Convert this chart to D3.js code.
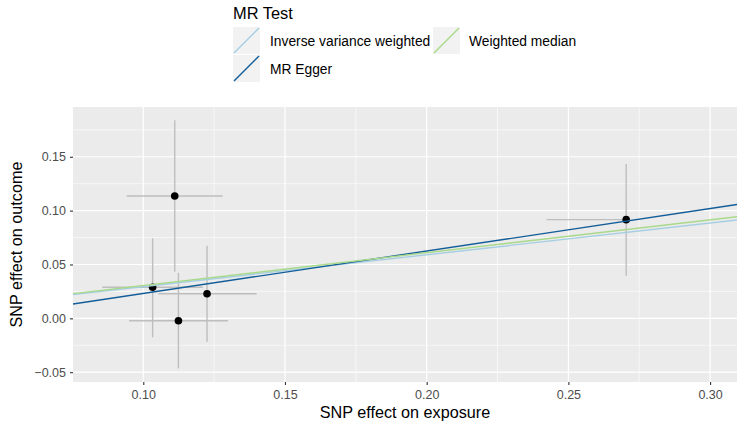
<!DOCTYPE html>
<html><head><meta charset="utf-8">
<script src="https://cdn.jsdelivr.net/npm/d3@7"></script>
<style>body{margin:0;background:#fff;}svg{display:block;font-family:"Liberation Sans",Arial,sans-serif;}</style>
</head><body>
<svg id="c" width="744" height="431"></svg>
<script>
// Data
const snpExposure = [0.1111, 0.1033, 0.1225, 0.1124, 0.2704];
const snpOutcome  = [0.1136, 0.0288, 0.0228, -0.0022, 0.0916];
const exposureLo  = [0.0941, 0.0855, 0.1053, 0.0950, 0.2423];
const exposureHi  = [0.1280, 0.1210, 0.1400, 0.1299, 0.2704];
const outcomeLo   = [0.0433, -0.0176, -0.0217, -0.0464, 0.0396];
const outcomeHi   = [0.1840, 0.0743, 0.0674, 0.0423, 0.1433];
const methods     = ["Inverse variance weighted", "MR Egger", "Weighted median"];
const slopes      = [0.295, 0.394, 0.3047];
const intercepts  = [0, -0.0163, 0];
const methodColors = ["#a6cee3", "#135d98", "#a9d98a"];
const xTicks = [0.10, 0.15, 0.20, 0.25, 0.30];
const yTicks = [-0.05, 0.00, 0.05, 0.10, 0.15];
const xMinor = [0.075, 0.125, 0.175, 0.225, 0.275];
const yMinor = [-0.025, 0.025, 0.075, 0.125, 0.175];

const svg = d3.select("#c");
const L = 73, R = 737, T = 107, B = 382;
const x = d3.scaleLinear().domain([0.0752, 0.3095]).range([L, R]);
const y = d3.scaleLinear().domain([-0.0591, 0.1962]).range([B, T]);

svg.append("defs").append("clipPath").attr("id","clip")
  .append("rect").attr("x",L).attr("y",T).attr("width",R-L).attr("height",B-T);

svg.append("rect").attr("x",L).attr("y",T).attr("width",R-L).attr("height",B-T).attr("fill","#ebebeb");

const grid = svg.append("g").attr("clip-path","url(#clip)");
grid.selectAll(".xm").data(xMinor).join("line")
  .attr("x1",d=>x(d)).attr("x2",d=>x(d)).attr("y1",T).attr("y2",B)
  .attr("stroke","#fff").attr("stroke-width",0.6);
grid.selectAll(".ym").data(yMinor).join("line")
  .attr("y1",d=>y(d)).attr("y2",d=>y(d)).attr("x1",L).attr("x2",R)
  .attr("stroke","#fff").attr("stroke-width",0.6);
grid.selectAll(".xM").data(xTicks).join("line")
  .attr("x1",d=>x(d)).attr("x2",d=>x(d)).attr("y1",T).attr("y2",B)
  .attr("stroke","#fff").attr("stroke-width",1.2);
grid.selectAll(".yM").data(yTicks).join("line")
  .attr("y1",d=>y(d)).attr("y2",d=>y(d)).attr("x1",L).attr("x2",R)
  .attr("stroke","#fff").attr("stroke-width",1.2);

// Axes
const xAxis = svg.append("g").attr("transform",`translate(0,${B})`)
  .call(d3.axisBottom(x).tickValues(xTicks).tickFormat(d3.format(".2f")).tickSize(3).tickPadding(5));
const yAxis = svg.append("g").attr("transform",`translate(${L},0)`)
  .call(d3.axisLeft(y).tickValues(yTicks).tickFormat(d=>d3.format(".2f")(d).replace("-","\u2212")).tickSize(3).tickPadding(4));
[xAxis,yAxis].forEach(a=>{
  a.select(".domain").remove();
  a.selectAll(".tick line").attr("stroke","#333").attr("stroke-width",1.1);
  a.selectAll(".tick text").attr("fill","#4d4d4d").style("font-size","12.5px").style("font-family","'Liberation Sans',Arial,sans-serif");
});

// Error bars
const idx = d3.range(snpExposure.length);
const plot = svg.append("g").attr("clip-path","url(#clip)");
plot.selectAll(".ev").data(idx).join("line")
  .attr("x1",i=>x(snpExposure[i])).attr("x2",i=>x(snpExposure[i]))
  .attr("y1",i=>y(outcomeLo[i])).attr("y2",i=>y(outcomeHi[i]))
  .attr("stroke","#bebebe").attr("stroke-width",1.4);
plot.selectAll(".eh").data(idx).join("line")
  .attr("y1",i=>y(snpOutcome[i])).attr("y2",i=>y(snpOutcome[i]))
  .attr("x1",i=>x(exposureLo[i])).attr("x2",i=>x(exposureHi[i]))
  .attr("stroke","#bebebe").attr("stroke-width",1.4);
plot.selectAll(".pt").data(idx).join("circle")
  .attr("cx",i=>x(snpExposure[i])).attr("cy",i=>y(snpOutcome[i])).attr("r",3.8).attr("fill","#000");

// Regression lines
const xd = x.domain();
plot.selectAll(".ln").data(d3.range(methods.length)).join("line")
  .attr("x1",x(xd[0])).attr("x2",x(xd[1]))
  .attr("y1",i=>y(intercepts[i]+slopes[i]*xd[0]))
  .attr("y2",i=>y(intercepts[i]+slopes[i]*xd[1]))
  .attr("stroke",i=>methodColors[i]).attr("stroke-width",1.4);

// Axis titles
svg.append("text").attr("x",(L+R)/2).attr("y",418).attr("text-anchor","middle")
  .style("font-size","16.2px").attr("fill","#000").text("SNP effect on exposure");
svg.append("text").attr("transform",`translate(22,${(T+B)/2}) rotate(-90)`).attr("text-anchor","middle")
  .style("font-size","16.2px").attr("fill","#000").text("SNP effect on outcome");

// Legend
const lg = svg.append("g");
lg.append("text").attr("x",233).attr("y",19).style("font-size","16.4px").attr("fill","#000").text("MR Test");
const keyPos = [[233,27],[233,55],[433,27]];
const textPos = [[270,41],[270,69],[469,41]];
methods.forEach((m,i)=>{
  const [kx,ky] = keyPos[i];
  lg.append("rect").attr("x",kx).attr("y",ky).attr("width",27).attr("height",27).attr("fill","#f2f2f2");
  lg.append("line").attr("x1",kx+1).attr("y1",ky+26).attr("x2",kx+26).attr("y2",ky+1)
    .attr("stroke",methodColors[i]).attr("stroke-width",1.4);
  lg.append("text").attr("x",textPos[i][0]).attr("y",textPos[i][1]).attr("dy","0.35em")
    .style("font-size","13.8px").attr("fill","#000").text(m);
});
</script>
</body></html>
